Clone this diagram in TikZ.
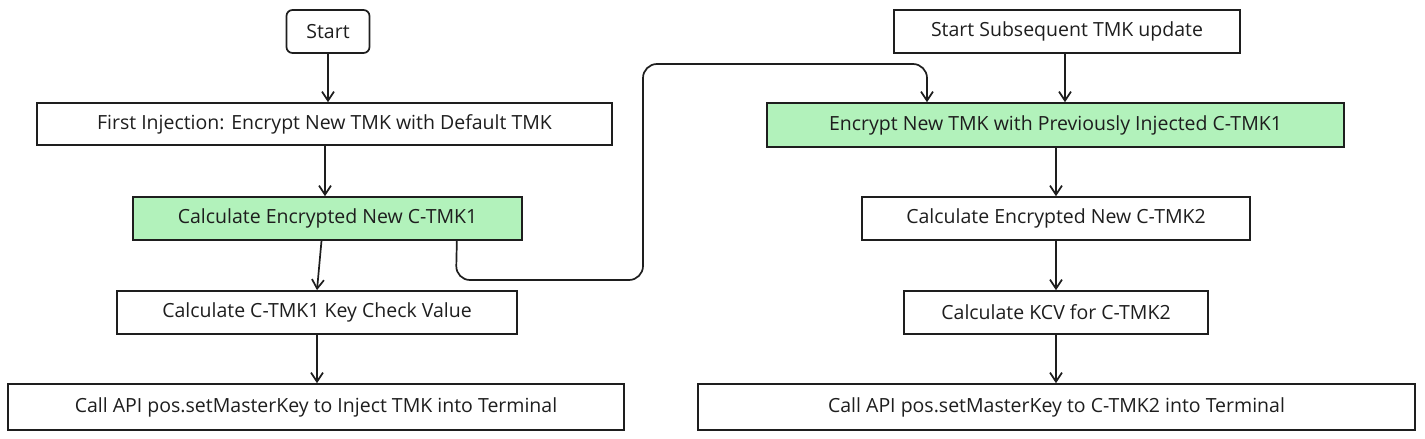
\documentclass[tikz,border=0pt]{standalone}
\usepackage{fontspec}
\setmainfont{Open Sans}
\usetikzlibrary{arrows.meta}
\definecolor{ink}{HTML}{1E1E1E}
\definecolor{mint}{HTML}{B2F2BB}
\tikzset{
  box/.style={draw=ink, line width=1.7pt, text=ink, inner sep=0pt, font=\fontsize{19.5}{22}\selectfont, anchor=center},
  conn/.style={draw=ink, line width=1.7pt, -{Straight Barb[length=9pt,width=12pt,line width=1.7pt]}},
}
\begin{document}
\begin{tikzpicture}[x=1pt,y=-1pt]
\useasboundingbox (0,0) rectangle (1425,439);
% left column
\node[box, rounded corners=6pt, minimum width=83pt, minimum height=43pt] (s1) at (328,31.5) {Start};
\node[box, minimum width=575pt, minimum height=42pt] (f1) at (324.5,124) {First Injection: Encrypt New TMK with Default TMK};
\node[box, fill=mint, minimum width=389pt, minimum height=43pt] (g1) at (327.5,218.5) {Calculate Encrypted New C-TMK1};
\node[box, minimum width=400pt, minimum height=43pt] (k1) at (317,312.5) {Calculate C-TMK1 Key Check Value};
\node[box, minimum width=616pt, minimum height=46pt] (a1) at (316,407) {Call API pos.setMasterKey to Inject TMK into Terminal};
% right column
\node[box, minimum width=346pt, minimum height=43pt] (s2) at (1067,31.5) {Start Subsequent TMK update};
\node[box, fill=mint, minimum width=577pt, minimum height=44pt] (e2) at (1055.5,125) {Encrypt New TMK with Previously Injected C-TMK1};
\node[box, minimum width=388pt, minimum height=43pt] (c2) at (1056,218.5) {Calculate Encrypted New C-TMK2};
\node[box, minimum width=304pt, minimum height=43pt] (k2) at (1056,312.5) {Calculate KCV for C-TMK2};
\node[box, minimum width=717pt, minimum height=46pt] (a2) at (1056.5,407) {Call API pos.setMasterKey to C-TMK2 into Terminal};
% connectors left
\draw[conn] (s1.south) -- (s1.south |- f1.north);
\draw[conn] ([xshift=0.5pt]f1.south) -- ([xshift=0.5pt]f1.south |- g1.north);
\draw[conn] ([xshift=-6pt]g1.south) -- ([xshift=0pt]k1.north);
\draw[conn] (k1.south) -- (k1.south |- a1.north);
% connectors right
\draw[conn] ([xshift=-2pt]s2.south) -- ([xshift=-2pt]s2.south |- e2.north);
\draw[conn] ([xshift=0.5pt]e2.south) -- ([xshift=0.5pt]e2.south |- c2.north);
\draw[conn] (c2.south) -- (c2.south |- k2.north);
\draw[conn] (k2.south) -- (k2.south |- a2.north);
% cross connector
\draw[conn, rounded corners=14pt] ([xshift=-66pt]g1.south east) -- (456,280) -- (643,280) -- (643,64) -- (927,64) -- ([xshift=-128.5pt]e2.north);
\end{tikzpicture}
\end{document}
